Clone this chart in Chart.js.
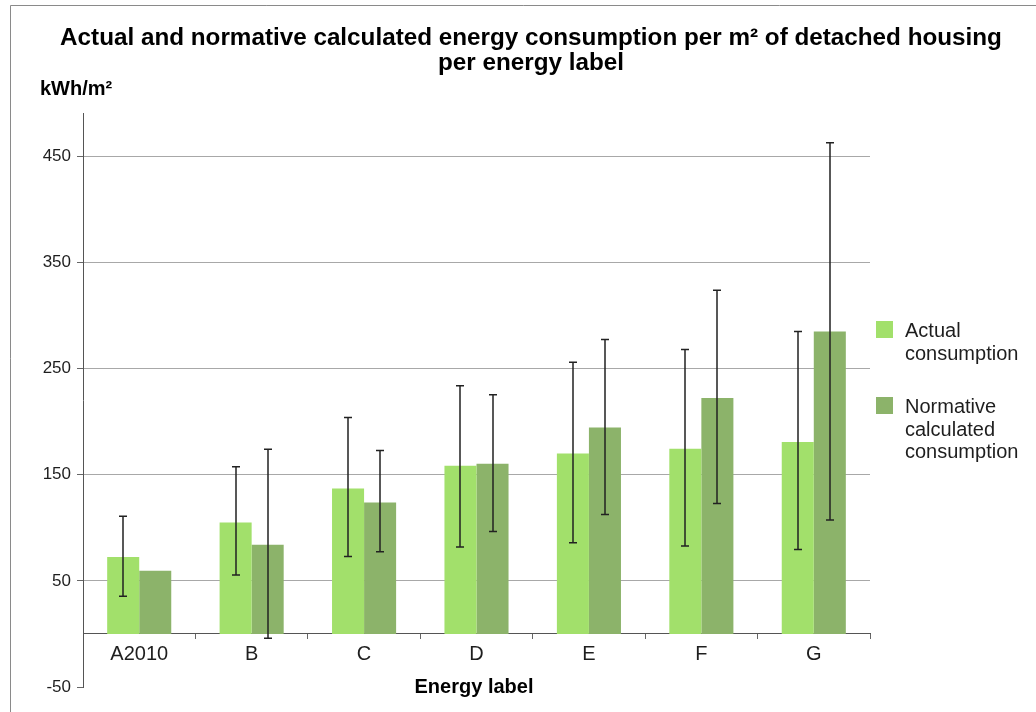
<!DOCTYPE html>
<html><head><meta charset="utf-8">
<script src="https://cdn.jsdelivr.net/npm/chart.js@4.4.1/dist/chart.umd.min.js"></script>
<style>html,body{margin:0;padding:0;background:#fff;}#wrap{width:1036px;height:712px;}</style>
</head><body><div id="wrap"><canvas id="c" width="1036" height="712"></canvas></div>
<script>
const categories = ['A2010', 'B', 'C', 'D', 'E', 'F', 'G'];
const actual = [72.5, 105, 137, 158.5, 170, 174.5, 181];
const normative = [59.5, 84, 124, 160.5, 194.5, 222.5, 285];
const actualLow = [35.5, 55.5, 73, 82, 86, 83, 79.5];
const actualHigh = [111, 157.5, 204, 234, 256, 268, 285];
const normLow = [null, -4, 77.5, 96.5, 112.5, 123, 107.5];
const normHigh = [null, 174, 173, 225.5, 277.5, 324, 463];
const yTicks = [-50, 50, 150, 250, 350, 450];
const titleLines = ['Actual and normative calculated energy consumption per m\u00B2 of detached housing', 'per energy label'];
const yUnit = 'kWh/m\u00B2';
const xTitle = 'Energy label';
const legendItems = [
  {lines: ['Actual', 'consumption'], color: '#a2e06b'},
  {lines: ['Normative', 'calculated', 'consumption'], color: '#8cb36a'}
];

const FF = '"Liberation Sans", Arial, sans-serif';
Chart.defaults.font.family = FF;

const errLow = [actualLow, normLow];
const errHigh = [actualHigh, normHigh];

const errorBars = {
  id: 'errorBars',
  afterDatasetsDraw(chart) {
    const ctx = chart.ctx, ys = chart.scales.y;
    ctx.save();
    ctx.strokeStyle = '#222';
    ctx.lineWidth = 1.5;
    chart.data.datasets.forEach((ds, i) => {
      const meta = chart.getDatasetMeta(i);
      meta.data.forEach((el, j) => {
        const lo = errLow[i][j], hi = errHigh[i][j];
        if (lo === null || hi === null) return;
        const x = Math.round(el.x);
        const y1 = ys.getPixelForValue(hi), y2 = ys.getPixelForValue(lo);
        ctx.beginPath();
        ctx.moveTo(x, y1); ctx.lineTo(x, y2);
        ctx.moveTo(x - 4, y1); ctx.lineTo(x + 4, y1);
        ctx.moveTo(x - 4, y2); ctx.lineTo(x + 4, y2);
        ctx.stroke();
      });
    });
    ctx.restore();
  }
};

const decor = {
  id: 'decor',
  afterDraw(chart) {
    const ctx = chart.ctx;
    ctx.save();
    // frame
    ctx.strokeStyle = '#8a8a8a';
    ctx.lineWidth = 1;
    ctx.beginPath();
    ctx.moveTo(10.5, 712); ctx.lineTo(10.5, 5.5); ctx.lineTo(1036, 5.5);
    ctx.stroke();
    // title
    ctx.fillStyle = '#000';
    ctx.textAlign = 'center';
    ctx.textBaseline = 'alphabetic';
    ctx.font = 'bold 100px ' + FF;
    const w = ctx.measureText(titleLines[0]).width;
    const ts = 100 * 942 / w;
    ctx.font = 'bold ' + ts.toFixed(2) + 'px ' + FF;
    ctx.fillText(titleLines[0], 531, 45);
    ctx.fillText(titleLines[1], 531, 70);
    // y unit
    ctx.textAlign = 'left';
    ctx.font = 'bold 20px ' + FF;
    ctx.fillText(yUnit, 40, 95);
    // x title
    ctx.textAlign = 'center';
    ctx.fillText(xTitle, 474, 693);
    // legend
    ctx.textAlign = 'left';
    ctx.font = '20px ' + FF;
    const starts = [337, 413];
    legendItems.forEach((it, k) => {
      const b = starts[k];
      ctx.fillStyle = it.color;
      ctx.fillRect(876, b - 16, 17, 17);
      ctx.fillStyle = '#1e1e1e';
      it.lines.forEach((ln, m) => ctx.fillText(ln, 905, b + m * 22.5));
    });
    ctx.restore();
  }
};

new Chart(document.getElementById('c'), {
  type: 'bar',
  data: {
    labels: categories,
    datasets: [
      {label: 'Actual consumption', data: actual, backgroundColor: legendItems[0].color, borderWidth: 0},
      {label: 'Normative calculated consumption', data: normative, backgroundColor: legendItems[1].color, borderWidth: 0}
    ]
  },
  options: {
    responsive: false,
    animation: false,
    devicePixelRatio: 1,
    layout: {padding: {top: 113, bottom: 25, left: 0, right: 166}},
    datasets: {bar: {categoryPercentage: 0.57, barPercentage: 1.0}},
    plugins: {legend: {display: false}, title: {display: false}, tooltip: {enabled: false}},
    scales: {
      x: {
        type: 'category',
        position: {y: 0},
        afterFit: s => { s.height = 0; },
        grid: {offset: true, drawOnChartArea: false, drawTicks: true, tickLength: 5, color: '#666', tickColor: '#666'},
        border: {display: true, color: '#555', width: 1},
        ticks: {font: {size: 20}, color: '#1e1e1e', padding: 4, maxRotation: 0}
      },
      y: {
        min: -50, max: 491,
        afterBuildTicks: s => { s.ticks = yTicks.map(v => ({value: v})); },
        afterFit: s => { s.width = 83; },
        grid: {color: c => (c.index === 0 ? 'rgba(0,0,0,0)' : '#a8a8a8'), tickColor: '#666', tickLength: 6, lineWidth: 1},
        border: {display: true, color: '#555', width: 1},
        ticks: {font: {size: 17}, color: '#1e1e1e', padding: 6}
      }
    }
  },
  plugins: [errorBars, decor]
});
</script></body></html>
